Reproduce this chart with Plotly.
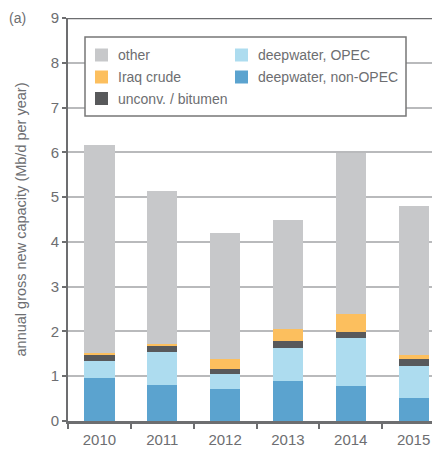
import plotly.graph_objects as go

years = ["2010", "2011", "2012", "2013", "2014", "2015"]
deep_non_opec = [0.97, 0.80, 0.72, 0.89, 0.78, 0.51]
deep_opec = [0.36, 0.74, 0.34, 0.74, 1.07, 0.72]
unconv = [0.15, 0.13, 0.11, 0.16, 0.14, 0.155]
iraq = [0.04, 0.06, 0.22, 0.26, 0.41, 0.085]
other = [4.64, 3.41, 2.81, 2.44, 3.58, 3.33]

names = ["deepwater, non-OPEC", "deepwater, OPEC", "unconv. / bitumen", "Iraq crude", "other"]
values = [deep_non_opec, deep_opec, unconv, iraq, other]
colors = ["#5ba3cf", "#addcef", "#58595b", "#fcbf5e", "#c7c8ca"]
# legend grid slot (column, row) for each series
legend_slots = [(1, 1), (1, 0), (0, 2), (0, 1), (0, 0)]

FONT = "Liberation Sans"
TXT = "#6d6e71"
AX = "#6d6e70"

# page body has an 8px offset; figure pixel geometry
W, H = 440, 450
ML, MT, MR, MB = 60, 10, 8, 37
PW, PH = W - ML - MR, H - MT - MB


def px(x):  # screen x -> paper
    return (x - 8 - ML) / PW


def py(y):  # screen y -> paper
    return (H - MB + 8 - y) / PH


fig = go.Figure()
for name, vals, color in zip(names, values, colors):
    fig.add_trace(go.Bar(
        x=years, y=vals, name=name, marker=dict(color=color, line=dict(width=0)),
        width=0.48, showlegend=False,
    ))

shapes = [dict(type="line", xref="paper", yref="y", x0=0, x1=1, y0=9, y1=9,
               line=dict(color=AX, width=2.5), layer="above")]
annotations = [dict(text="(a)", xref="paper", yref="paper", x=px(7), y=py(18),
                    xanchor="left", yanchor="middle", showarrow=False,
                    font=dict(size=14, color=TXT))]

# legend box
shapes.append(dict(type="rect", xref="paper", yref="paper",
                   x0=px(85), x1=px(406), y0=py(116), y1=py(37),
                   line=dict(color="#777777", width=1.5), fillcolor="white", layer="above"))
col_x = [95, 235]
row_y = [55, 77, 98.5]
sw = 13
for name, color, (c, r) in zip(names, colors, legend_slots):
    x0 = col_x[c]
    yc = row_y[r]
    shapes.append(dict(type="rect", xref="paper", yref="paper",
                       x0=px(x0), x1=px(x0 + sw), y0=py(yc + sw / 2), y1=py(yc - sw / 2),
                       line=dict(width=0), fillcolor=color, layer="above"))
    annotations.append(dict(text=name, xref="paper", yref="paper",
                            x=px(x0 + 21), y=py(yc), xanchor="left", yanchor="middle",
                            showarrow=False, font=dict(size=14, color=TXT)))

fig.update_layout(
    width=W, height=H,
    margin=dict(l=ML, r=MR, t=MT, b=MB, autoexpand=False),
    barmode="stack",
    plot_bgcolor="white", paper_bgcolor="white",
    font=dict(family=FONT, size=14, color=TXT),
    showlegend=False,
    xaxis=dict(
        type="category", range=[-0.5, 5.42], automargin=False,
        showline=True, linecolor=AX, linewidth=2.5,
        ticks="outside", ticklen=5, tickwidth=1.5, tickcolor=AX, tickson="boundaries",
        showgrid=False, tickfont=dict(size=15, color=TXT), ticklabelstandoff=3,
    ),
    yaxis=dict(
        range=[0, 9], dtick=1, tick0=0, automargin=False,
        showline=True, linecolor=AX, linewidth=2,
        ticks="outside", ticklen=4, tickwidth=1.5, tickcolor=AX,
        showgrid=True, gridcolor="#b9babc", gridwidth=1.5,
        zeroline=False, tickfont=dict(size=15, color=TXT),
        title=dict(text="annual gross new capacity (Mb/d per year)", font=dict(size=14.5, color=TXT), standoff=21),
    ),
    shapes=shapes,
    annotations=annotations,
)

fig.write_html("out.html")
